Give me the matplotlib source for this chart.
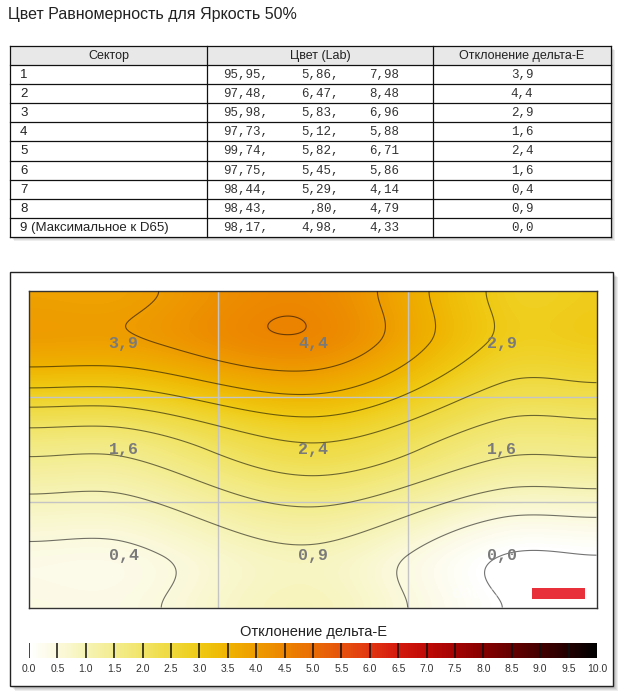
import numpy as np
import matplotlib
matplotlib.use('Agg')
import matplotlib.pyplot as plt
from matplotlib.colors import LinearSegmentedColormap, Normalize
from matplotlib.patches import Rectangle
import matplotlib.cm as cm

# ---------------- data ----------------
title = "Цвет Равномерность для Яркость 50%"
headers = ["Сектор", "Цвет (Lab)", "Отклонение дельта-Е"]
sectors = ["1", "2", "3", "4", "5", "6", "7", "8", "9 (Максимальное к D65)"]
lab_L = [95.95, 97.48, 95.98, 97.73, 99.74, 97.75, 98.44, 98.43, 98.17]
lab_a = [5.86, 6.47, 5.83, 5.12, 5.82, 5.45, 5.29, 0.80, 4.98]
lab_b = [7.98, 8.48, 6.96, 5.88, 6.71, 5.86, 4.14, 4.79, 4.33]
delta_e = [3.9, 4.4, 2.9, 1.6, 2.4, 1.6, 0.4, 0.9, 0.0]
cbar_title = "Отклонение дельта-Е"
cbar_ticks = [0.0, 0.5, 1.0, 1.5, 2.0, 2.5, 3.0, 3.5, 4.0, 4.5, 5.0,
              5.5, 6.0, 6.5, 7.0, 7.5, 8.0, 8.5, 9.0, 9.5, 10.0]
contour_levels = [0.0, 0.5, 1.0, 1.5, 2.0, 2.5, 3.0, 3.5, 4.0, 4.5]
cmap_values = [0.0, 0.5, 1.0, 1.5, 2.0, 2.5, 3.0, 3.5, 4.0, 4.5, 5.0,
               5.5, 6.0, 6.5, 7.0, 7.5, 8.0, 8.5, 9.0, 9.5, 10.0]
cmap_colors = ['#FFFFFF', '#FBF9DC', '#F6F3B4', '#F3EC8E', '#F1E466', '#EFD93C',
               '#EFCA14', '#EFB300', '#EE9C00', '#EC8400', '#E96C04', '#E6520C',
               '#E13612', '#D41A0E', '#BF0A06', '#A40404', '#860000', '#660000',
               '#450000', '#230000', '#000000']

W, H = 625, 696
fig = plt.figure(figsize=(W / 100, H / 100), dpi=100)
fig.patch.set_facecolor('white')

def fr(x0, y0, x1, y1):
    return [x0 / W, 1 - y1 / H, (x1 - x0) / W, (y1 - y0) / H]

bg = fig.add_axes([0, 0, 1, 1])
bg.set_xlim(0, W)
bg.set_ylim(H, 0)
bg.axis('off')

def shadow(ax, x0, y0, x1, y1, n=5):
    for k in range(1, n + 1):
        ax.add_patch(Rectangle((x0 + k, y0 + k), x1 - x0, y1 - y0,
                               facecolor='#000000', edgecolor='none',
                               alpha=0.07, zorder=0))

# title
bg.text(8, 14, title, fontsize=11.5, family='Liberation Sans', color='#222222',
        va='center', ha='left')

# ---------------- table ----------------
tx0, tx1 = 10, 611
ty0, thead = 46, 65
row_h = (237 - 65) / 9
ty1 = thead + row_h * len(sectors)
cols = [10, 207, 433, 611]
shadow(bg, tx0, ty0, tx1, ty1, n=4)
bg.add_patch(Rectangle((tx0, ty0), tx1 - tx0, ty1 - ty0, facecolor='white',
                       edgecolor='none', zorder=1))
bg.add_patch(Rectangle((tx0, ty0), tx1 - tx0, thead - ty0, facecolor='#E8E8E8',
                       edgecolor='none', zorder=1))
for i in range(len(sectors) + 2):
    y = ty0 if i == 0 else thead + row_h * (i - 1)
    bg.plot([tx0, tx1], [y, y], color='#111111', lw=0.9, zorder=2)
for x in cols:
    bg.plot([x, x], [ty0, ty1], color='#111111', lw=0.9, zorder=2)
for j, h in enumerate(headers):
    bg.text((cols[j] + cols[j + 1]) / 2, (ty0 + thead) / 2 + 0.5, h, fontsize=9,
            family='Liberation Sans', ha='center', va='center', color='#222222', zorder=3)

def lab_fmt(v):
    s = f"{v:.2f}".replace('.', ',')
    if v < 1:
        s = s.lstrip('0')
    return s

for i in range(len(sectors)):
    yc = thead + row_h * i + row_h / 2 + 0.5
    bg.text(20, yc, sectors[i], fontsize=9.5, family='Liberation Sans', ha='left',
            va='center', color='#222222', zorder=3)
    for xe, val, comma in ((268, lab_L[i], ','), (339, lab_a[i], ','), (399, lab_b[i], '')):
        bg.text(xe, yc, lab_fmt(val) + comma, fontsize=9, family='Liberation Mono',
                ha='right', va='center', color='#333333', zorder=3)
    bg.text(522, yc, f"{delta_e[i]:.1f}".replace('.', ','), fontsize=9,
            family='Liberation Mono', ha='center', va='center', color='#333333', zorder=3)

# ---------------- panel ----------------
px0, py0, px1, py1 = 10, 272, 613, 686
shadow(bg, px0, py0, px1, py1, n=5)
bg.add_patch(Rectangle((px0, py0), px1 - px0, py1 - py0, facecolor='white',
                       edgecolor='#222222', lw=1.0, zorder=1))
bg.text(313, 632, cbar_title, fontsize=10.5, family='Liberation Sans',
        ha='center', va='center', color='#222222', zorder=3)

# ---------------- heatmap ----------------
cmap = LinearSegmentedColormap.from_list(
    'de', list(zip(np.array(cmap_values) / 10.0, cmap_colors)))
norm = Normalize(vmin=0, vmax=10)

V = np.array(delta_e).reshape(3, 3)

def hermite_matrix(n_out, n_in=3, tension=1.0):
    # nodes: grid edges (clamped values) plus cell centres; cubic Hermite
    # with finite-difference (cardinal spline) tangents
    xn = np.concatenate([[0.0], np.arange(n_in) + 0.5, [float(n_in)]])
    xs = (np.arange(n_out) + 0.5) / n_out * n_in
    M = np.zeros((n_out, n_in))
    for k in range(n_in):
        e = np.zeros(n_in)
        e[k] = 1.0
        vn = np.concatenate([[e[0]], e, [e[-1]]])
        m = np.zeros_like(vn)
        for i in range(1, len(vn) - 1):
            m[i] = tension * (vn[i + 1] - vn[i - 1]) / (xn[i + 1] - xn[i - 1])
        seg = np.clip(np.searchsorted(xn, xs) - 1, 0, len(xn) - 2)
        x0, x1 = xn[seg], xn[seg + 1]
        hgt = x1 - x0
        t = (xs - x0) / hgt
        h00 = 2 * t**3 - 3 * t**2 + 1
        h10 = t**3 - 2 * t**2 + t
        h01 = -2 * t**3 + 3 * t**2
        h11 = t**3 - t**2
        M[:, k] = (h00 * vn[seg] + h10 * hgt * m[seg] +
                   h01 * vn[seg + 1] + h11 * hgt * m[seg + 1])
    return M, xs

nx, ny = 568, 317
Mx, xs = hermite_matrix(nx, tension=1.0)
My, ys = hermite_matrix(ny, tension=0.85)
Z = My @ V @ Mx.T

hx0, hy0, hx1, hy1 = 29, 291, 597, 608
ax = fig.add_axes(fr(hx0, hy0, hx1, hy1))
ax.imshow(Z, cmap=cmap, norm=norm, extent=[0, 3, 3, 0], aspect='auto',
          interpolation='bilinear', zorder=1)
XX, YY = np.meshgrid(xs, ys)
ax.contour(XX, YY, Z, levels=contour_levels, colors='#000000', linewidths=0.8,
           alpha=0.55, zorder=3)
for g in (1, 2):
    ax.axvline(g, color='#C4C4C4', lw=1.0, zorder=2)
    ax.axhline(g, color='#C4C4C4', lw=1.0, zorder=2)
for k, v in enumerate(delta_e):
    r, c = divmod(k, 3)
    ax.text(c + 0.5, r + 0.5, f"{v:.1f}".replace('.', ','), fontsize=12,
            family='Liberation Mono', weight='bold', color='#7A7A7A',
            ha='center', va='center', zorder=4)
ax.set_xlim(0, 3)
ax.set_ylim(3, 0)
ax.set_xticks([])
ax.set_yticks([])
for s in ax.spines.values():
    s.set_color('#333333')
    s.set_linewidth(1.0)

# ---------------- colorbar ----------------
cax = fig.add_axes(fr(29, 643, 597, 658))
cb = fig.colorbar(cm.ScalarMappable(norm=norm, cmap=cmap), cax=cax,
                  orientation='horizontal', ticks=cbar_ticks)
cb.outline.set_visible(False)
cax.set_xticklabels([f"{t:.1f}" for t in cbar_ticks])
cax.tick_params(axis='x', length=0, pad=4, labelsize=7.5, labelcolor='#333333')
for lab in cax.get_xticklabels():
    lab.set_family('Liberation Sans')
for t in cbar_ticks[:-1]:
    cax.axvline(t, color='#111111', lw=1.1)

# ---------------- logo overlay ----------------
top = fig.add_axes([0, 0, 1, 1], zorder=10)
top.set_xlim(0, W)
top.set_ylim(H, 0)
top.axis('off')
top.patch.set_alpha(0)
top.text(492, 594, "datacolor", fontsize=13, family='Liberation Sans',
         weight='bold', color='white', alpha=0.35, ha='center', va='center')
top.add_patch(Rectangle((532, 588), 53, 11, facecolor='#E8303A', edgecolor='none'))

fig.savefig('out.png', dpi=100, facecolor='white')
